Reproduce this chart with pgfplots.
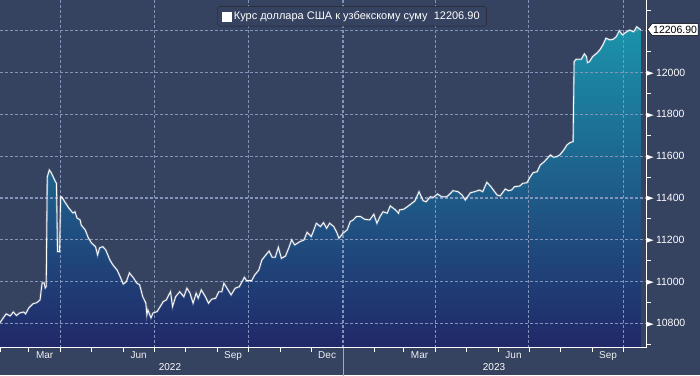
\documentclass[border=0pt]{standalone}
\usepackage{pgfplots}
\pgfplotsset{compat=1.18}
\usepackage{pgfplotstable}
\usepackage{graphicx}
\usepackage{fontspec}
\setmainfont{Liberation Sans}
\newfontfamily\djv{DejaVu Sans}
\definecolor{bgc}{HTML}{354260}
\definecolor{gridc}{HTML}{8294BA}
\definecolor{fillTop}{HTML}{1B93AB}
\definecolor{fillBot}{HTML}{212868}
\newcommand{\ytl}[1]{\raisebox{0.6pt}{\scalebox{1.45}[1]{\djv\fontsize{7}{8}\selectfont ▶}}\hspace{2pt}#1}
\pgfplotstableread{
day value
31 10803
37 10845
41 10835
44 10854
47 10837
50 10849
54 10854
56 10845
59 10873
63 10893
67 10899
70 10912
72 10993
74 10994
75 10969
76 10975
77 11500
79 11534
81 11520
85 11478
86 11470
87 11143
89 11143
90 11406
91 11406
94 11382
98 11352
101 11334
102 11328
104 11334
106 11304
109 11295
110 11271
114 11247
117 11209
120 11185
124 11167
126 11127
128 11161
131 11167
134 11151
138 11103
141 11079
145 11055
148 11023
151 10988
154 10999
157 11041
161 11017
164 10993
167 10984
170 10927
173 10897
174 10840
175 10864
178 10826
180 10849
184 10856
187 10880
190 10904
193 10912
197 10951
199 10880
202 10927
206 10951
210 10927
213 10968
216 10944
219 10896
222 10944
224 10920
227 10960
231 10927
234 10896
237 10915
241 10920
244 10951
247 10951
249 10992
252 10968
256 10936
260 10968
264 10975
269 11020
271 11004
276 11004
279 11031
283 11055
286 11103
289 11122
293 11146
296 11116
299 11116
302 11164
305 11111
309 11122
312 11159
315 11199
318 11175
323 11191
327 11199
330 11236
334 11215
336 11239
339 11279
343 11263
346 11282
349 11255
352 11279
356 11263
359 11234
361 11207
365 11231
369 11247
372 11287
375 11295
378 11311
382 11311
386 11298
391 11295
395 11322
398 11279
401 11311
404 11334
408 11327
411 11362
416 11343
419 11327
420 11343
424 11346
427 11356
430 11367
435 11386
439 11430
443 11387
446 11382
450 11406
453 11403
457 11419
461 11406
466 11406
469 11419
472 11435
477 11430
481 11414
484 11390
489 11425
493 11430
498 11438
501 11430
505 11475
509 11454
515 11414
518 11410
523 11443
526 11435
529 11438
532 11454
537 11457
540 11470
544 11473
547 11499
550 11521
554 11526
557 11558
561 11574
563 11585
567 11606
570 11595
573 11598
576 11606
580 11630
583 11654
586 11665
589 11670
590 12053
592 12064
597 12064
600 12090
602 12077
603 12048
605 12053
608 12077
612 12093
615 12109
618 12133
621 12165
625 12157
628 12160
631 12172
634 12201
637 12181
640 12192
644 12204
648 12196
651 12220
654 12208
655 12206.9
}\usd
\begin{document}
\begin{tikzpicture}
\useasboundingbox (0,0) rectangle (700pt,375pt);
\fill[bgc] (0,0) rectangle (700pt,375pt);
\begin{axis}[
  at={(0pt,27.3pt)}, anchor=south west,
  scale only axis, width=646pt, height=347.7pt,
  xmin=31, xmax=660, ymin=10683, ymax=12348,
  scaled x ticks=false, scaled y ticks=false,
  axis x line*=bottom, axis y line*=right,
  axis line style={white, line width=0.8pt, -},
  axis on top,
  tick align=outside,
  major tick length=0pt, minor tick length=4.5pt,
  every tick/.style={white, line width=0.8pt},
  xtick={74.5,166,258,349.5,439.5,531,623},
  xticklabels={Mar,Jun,Sep,Dec,Mar,Jun,Sep},
  minor xtick={31,59,90,120,151,181,212,243,273,304,334,365,396,424,455,485,516,546,577,608,638},
  xticklabel style={text=white!92!bgc, font=\fontsize{10}{11}\selectfont},
  ytick={10800,11000,11200,11400,11600,11800,12000,12200},
  yticklabels={\ytl{10800},\ytl{11000},\ytl{11200},\ytl{11400},\ytl{11600},\ytl{11800},\ytl{12000},{}},
  minor ytick={10700,10900,11100,11300,11500,11700,11900,12100,12300},
  yticklabel style={inner sep=0pt, text=white, font=\fontsize{10.5}{12}\selectfont},
  legend style={at={(0.545,0.953)}, anchor=center, fill=bgc, draw=black!85, rounded corners=2.5pt,
    text=white, font=\fontsize{11}{13}\selectfont, inner xsep=5pt, inner ysep=3pt},
  legend cell align=left,
]
\addplot[draw=none, top color=fillTop, bottom color=fillBot, forget plot]
  table[x=day, y=value] {\usd} -- (axis cs:655,10683) -- (axis cs:31,10683) -- cycle;
\pgfplotsinvokeforeach{10800,11000,11200,11400,11600,11800,12000,12200}{
  \draw[gridc, line width=1.1pt, dash pattern=on 3pt off 2pt] (axis cs:31,#1) -- (axis cs:660,#1);
}
\pgfplotsinvokeforeach{90,181,273,365,455,546,638}{
  \draw[gridc, line width=1.1pt, dash pattern=on 3pt off 2pt] (axis cs:#1,10683) -- (axis cs:#1,12348);
}
\addplot[white, opacity=0.22, line width=2.2pt, forget plot] table[x=day, y=value] {\usd};
\addplot[white, line width=0.85pt, forget plot] table[x=day, y=value] {\usd};
\addlegendimage{legend image code/.code={\fill[white, sharp corners] (0pt,-4.5pt) rectangle (9pt,4.5pt);}}
\addlegendentry{Курс доллара США к узбекскому суму\ \ 12206.90}
\coordinate (y22) at (axis cs:196.5,10683);
\coordinate (y23) at (axis cs:512,10683);
\coordinate (sep) at (axis cs:365,10683);
\coordinate (vl) at (axis cs:660,12206.9);
\end{axis}
\node[white, font=\fontsize{10}{11}\selectfont] at ([yshift=-19.5pt]y22) {2022};
\node[white, font=\fontsize{10}{11}\selectfont] at ([yshift=-19.5pt]y23) {2023};
\draw[white!55!bgc, line width=0.8pt] (sep) -- ++(0,-28pt);
\node[inner xsep=1pt, inner ysep=2pt, anchor=west, font=\fontsize{10.5}{12}\selectfont] (lab) at ([xshift=6pt]vl) {\phantom{12206.90}};
\filldraw[fill=white, draw=black, line width=0.5pt] ([xshift=-4.5pt]lab.west) -- (lab.north west) -- (lab.north east) -- (lab.south east) -- (lab.south west) -- cycle;
\node[inner xsep=1pt, inner ysep=2pt, anchor=west, text=black, font=\fontsize{10.5}{12}\selectfont] at ([xshift=6pt]vl) {12206.90};
\end{tikzpicture}
\end{document}
